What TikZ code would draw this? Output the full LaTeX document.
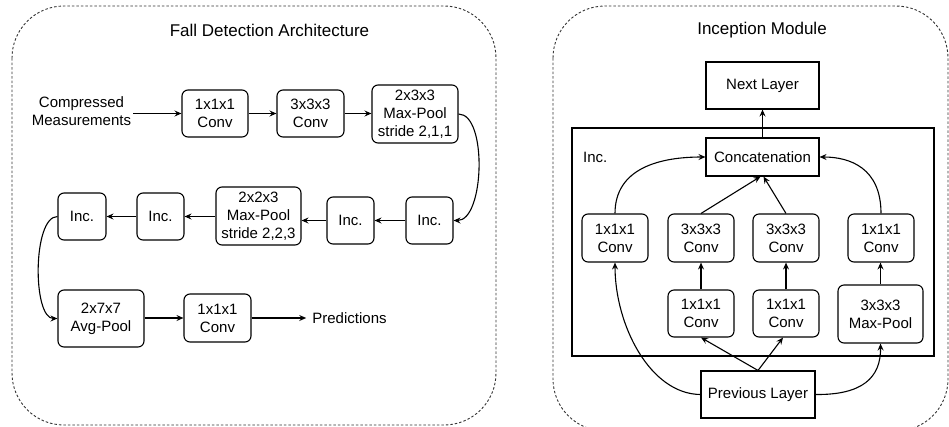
\documentclass[tikz,border=0pt]{standalone}
\usepackage{fontspec}
\setmainfont{Liberation Sans}
\usetikzlibrary{arrows.meta}
\begin{document}
\begin{tikzpicture}[x=1pt,y=-1pt,
  txt/.style={font=\fontsize{15}{18}\selectfont, align=center, inner sep=0},
  ttl/.style={font=\fontsize{17}{20}\selectfont, inner sep=0},
  rbox/.style={txt, draw, rounded corners=6, line width=1.1},
  sbox/.style={txt, draw, line width=1.1},
  frame/.style={draw=black!80, line width=0.9, dash pattern=on 2.5pt off 2pt, rounded corners=52},
  arr/.style={-{Stealth[length=7,width=6,inset=2.5]}, line width=1.1},
]
\useasboundingbox (0,0) rectangle (949,426);
\begin{scope}
\clip (0,0) rectangle (949,426);
\draw[frame] (12,6) rectangle (496,425);
\draw[frame] (553,6) rectangle (948,431);
\end{scope}

% ---------- Left panel ----------
\node[ttl] (t1) at (269.5,30) {Fall Detection Architecture};
\node[txt] (cm) at (81.5,111) {Compressed\\Measurements};
\node[rbox, minimum width=66, minimum height=47] (c1) at (215,113.5) {1x1x1\\Conv};
\node[rbox, minimum width=67, minimum height=47] (c2) at (310.5,113.5) {3x3x3\\Conv};
\node[rbox, minimum width=86, minimum height=58] (mp1) at (415,114) {2x3x3\\Max-Pool\\stride 2,1,1};
\node[rbox, minimum width=47, minimum height=47] (inc5) at (429.5,220.5) {Inc.};
\node[rbox, minimum width=47, minimum height=47] (inc4) at (350.5,220.5) {Inc.};
\node[rbox, minimum width=85, minimum height=58] (mp2) at (258.5,216) {2x2x3\\Max-Pool\\stride 2,2,3};
\node[rbox, minimum width=47, minimum height=47] (inc2) at (160.5,216.5) {Inc.};
\node[rbox, minimum width=48, minimum height=47] (inc1) at (82,216.5) {Inc.};
\node[rbox, minimum width=86, minimum height=57] (ap) at (101,318.5) {2x7x7\\Avg-Pool};
\node[rbox, minimum width=67, minimum height=48] (c3) at (217.5,318) {1x1x1\\Conv};
\node[txt] (pred) at (349.5,318) {Predictions};

\draw[arr] (cm.east |- c1.west) ++(2,0) -- (c1.west);
\draw[arr] (c1) -- (c2);
\draw[arr] (c2) -- (c2 -| mp1.west);
\draw[arr] (mp1.east) .. controls +(29,0) and +(31,0) .. (inc5.east);
\draw[arr] (inc5) -- (inc4);
\draw[arr] (inc4.west) -- (inc4.west -| mp2.east);
\draw[arr] (mp2.west |- inc2.east) -- (inc2.east);
\draw[arr] (inc2) -- (inc1);
\draw[arr] (inc1.west) .. controls +(-25,0) and +(-25,0) .. (ap.west);
\draw[arr] (ap.east |- c3.west) -- (c3.west);
\draw[arr] (c3.east) -- ([xshift=-6]pred.west);

% ---------- Right panel ----------
\node[ttl] (t2) at (762,30) {Inception Module};
\node[sbox, minimum width=113, minimum height=47] (nl) at (762.5,85.5) {Next Layer};
\draw[line width=1.1] (572,128) rectangle (934,356);
\node[txt, anchor=west] (inclbl) at (583,157) {Inc.};
\node[sbox, minimum width=113, minimum height=38] (cc) at (762.5,157) {Concatenation};
\node[rbox, minimum width=66, minimum height=48] (A) at (615,238) {1x1x1\\Conv};
\node[rbox, minimum width=66, minimum height=48] (B) at (701,238) {3x3x3\\Conv};
\node[rbox, minimum width=66, minimum height=48] (C) at (786,238) {3x3x3\\Conv};
\node[rbox, minimum width=66, minimum height=48] (D) at (881,238) {1x1x1\\Conv};
\node[rbox, minimum width=66, minimum height=47] (E) at (701,313.5) {1x1x1\\Conv};
\node[rbox, minimum width=66, minimum height=47] (F) at (786,313.5) {1x1x1\\Conv};
\node[rbox, minimum width=85, minimum height=58] (G) at (880.5,314) {3x3x3\\Max-Pool};
\node[sbox, minimum width=114, minimum height=47] (pl) at (758,394.5) {Previous Layer};

\draw[arr] (cc) -- (nl);
\draw[arr] (A.north) .. controls (615,168) and (660,157) .. (cc.west);
\draw[arr] (D.north) .. controls (881,168) and (850,157) .. (cc.east);
\draw[arr] (B.north) -- ([xshift=-2]cc.south);
\draw[arr] (C.north) -- ([xshift=1]cc.south);
\draw[arr] (E) -- (B);
\draw[arr] (F) -- (C);
\draw[arr] (G.north) -- (G.north |- D.south);
\draw[arr] (pl.north) -- (E.south);
\draw[arr] (pl.north) -- ([xshift=-3]F.south);
\draw[arr] (pl.west) .. controls (650,394) and (615,325) .. (A.south);
\draw[arr] (pl.east) .. controls (862,395) and (881,378) .. (G.south);
\end{tikzpicture}
\end{document}
